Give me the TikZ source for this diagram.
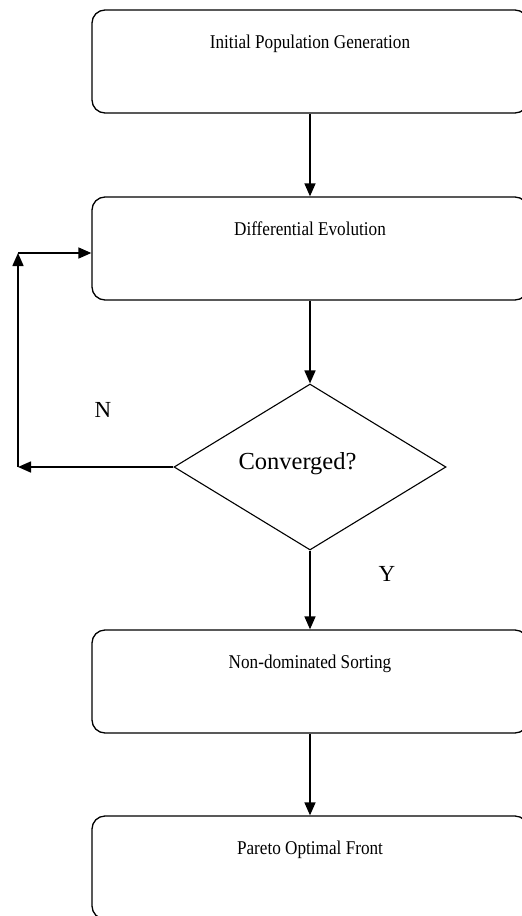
\documentclass[tikz,border=0pt]{standalone}
\usepackage{fontspec}
\usepackage{graphicx}
\setmainfont{Liberation Serif}
\usetikzlibrary{arrows.meta,shapes.geometric}
\newcommand{\narrowtext}[1]{\scalebox{0.88}[1]{#1}}
\begin{document}
\begin{tikzpicture}[x=1pt,y=-1pt,
  box/.style={draw,line width=1.3pt,rounded corners=13pt,minimum width=436pt,
    inner sep=0pt,text height=38pt,text depth=65pt,font=\fontsize{19.5}{22}\selectfont},
  dec/.style={draw,line width=1.1pt,shape=diamond,aspect=1.64,minimum width=272pt,
    minimum height=166pt,inner sep=0pt},
  dectext/.style={inner sep=0pt,font=\fontsize{24.5}{28}\selectfont},
  arr/.style={line width=1.6pt,-{Triangle[length=13pt,width=11pt]}},
  lab/.style={font=\fontsize{23}{26}\selectfont}]
\clip (0,0) rectangle (522,916);
\fill[white] (0,0) rectangle (522,916);
\node[box] (b1) at (310,61.5) {\narrowtext{Initial Population Generation}};
\node[box] (b2) at (310,248.5) {\narrowtext{Differential Evolution}};
\node[dec] (d) at (310,467) {};
\node[dectext] (dt) at (297.5,463.5) {Converged?};
\node[box] (b3) at (310,681.5) {\narrowtext{Non-dominated Sorting}};
\node[box] (b4) at (310,867.5) {\narrowtext{Pareto Optimal Front}};
\coordinate (l1) at (18,467);
\coordinate (l2) at (18,253);
\draw[arr] (b1.south) -- (b2.north);
\draw[arr] (b2.south) -- (d.north);
\draw[arr] (d.south) -- (b3.north);
\draw[arr] (b3.south) -- (b4.north);
\draw[arr] (d.west) -- (l1);
\draw[arr] (l1) -- (l2);
\draw[arr] (l2) -- (l2 -| b2.west);
\node[lab] (n) at (103,410) {N};
\node[lab] (y) at (387,574) {Y};
\end{tikzpicture}
\end{document}
